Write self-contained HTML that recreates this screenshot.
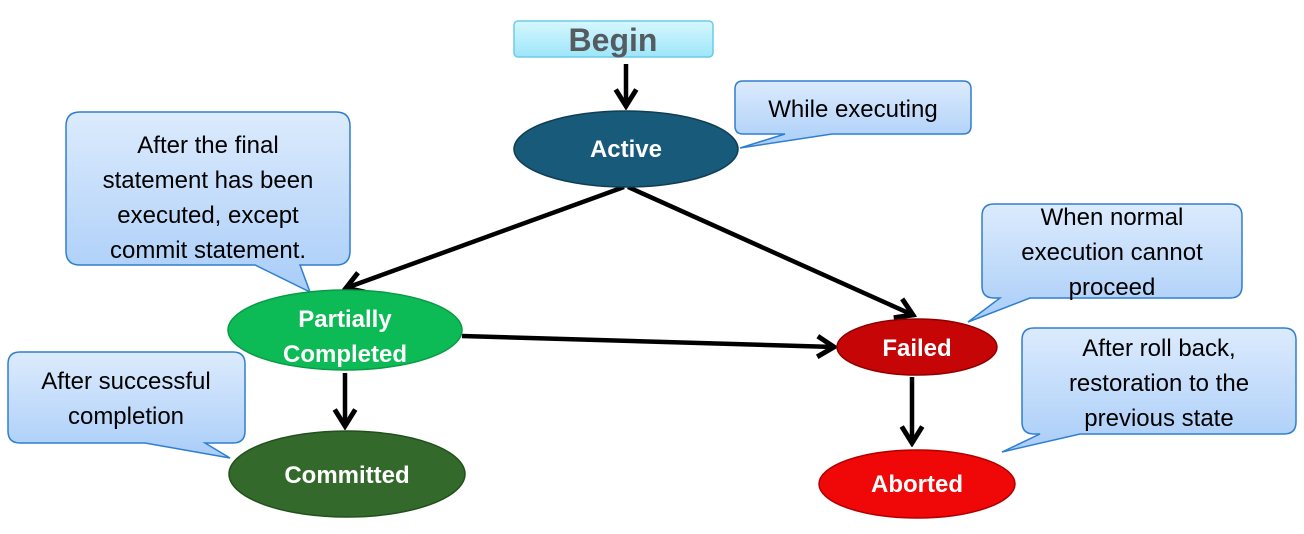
<!DOCTYPE html>
<html><head><meta charset="utf-8"><style>html,body{margin:0;padding:0;background:#fff}svg{display:block}</style></head><body>
<svg width="1304" height="534" viewBox="0 0 1304 534" xmlns="http://www.w3.org/2000/svg" font-family="Liberation Sans, sans-serif">
<defs>
<linearGradient id="cb" x1="0" y1="0" x2="0" y2="1"><stop offset="0" stop-color="#dcebfd"/><stop offset="1" stop-color="#a9cdf8"/></linearGradient>
<linearGradient id="bg" x1="0" y1="0" x2="0" y2="1"><stop offset="0" stop-color="#d6f7fd"/><stop offset="1" stop-color="#9de6fa"/></linearGradient>
<marker id="ah" viewBox="0 0 12 12" refX="10" refY="6" markerWidth="5.5" markerHeight="5.5" orient="auto" markerUnits="strokeWidth"><polyline points="2,1 10,6 2,11" fill="none" stroke="#000" stroke-width="2.4"/></marker>
</defs>
<rect x="514" y="21" width="199" height="36" rx="4" fill="url(#bg)" stroke="#6ccbe8" stroke-width="1.5"/>
<text x="613" y="51" font-size="32" font-weight="bold" fill="#555c60" text-anchor="middle">Begin</text>
<g stroke="#000" stroke-width="4.5" fill="none" marker-end="url(#ah)">
<line x1="626" y1="64" x2="626" y2="106"/>
<line x1="624" y1="187" x2="346" y2="288"/>
<line x1="628" y1="187" x2="913" y2="315"/>
<line x1="462" y1="336" x2="834" y2="347"/>
<line x1="345" y1="373" x2="345" y2="426"/>
<line x1="912" y1="377" x2="912" y2="443"/>
</g>
<g stroke="#2f7fcf" stroke-width="1.5" fill="url(#cb)">
<path d="M743,81 H963 Q971,81 971,89 V126 Q971,134 963,134 H832 L740,148 L785,134 H743 Q735,134 735,126 V89 Q735,81 743,81 Z"/>
<path d="M80,112 H336 Q350,112 350,126 V251 Q350,265 336,265 H300 L310,292 L255,265 H80 Q66,265 66,251 V126 Q66,112 80,112 Z"/>
<path d="M20,352 H233 Q245,352 245,364 V431 Q245,443 233,443 H205 L230,458 L145,443 H20 Q8,443 8,431 V364 Q8,352 20,352 Z"/>
<path d="M994,204 H1230 Q1242,204 1242,216 V286 Q1242,298 1230,298 H1030 L968,322 L1000,298 H994 Q982,298 982,286 V216 Q982,204 994,204 Z"/>
<path d="M1034,328 H1284 Q1296,328 1296,340 V422 Q1296,434 1284,434 H1080 L1002,452 L1040,434 H1034 Q1022,434 1022,422 V340 Q1022,328 1034,328 Z"/>
</g>
<g font-size="24" fill="#000" text-anchor="middle">
<text x="853" y="117">While executing</text>
<text x="208" y="153">After the final</text>
<text x="208" y="188">statement has been</text>
<text x="208" y="223">executed, except</text>
<text x="208" y="258">commit statement.</text>
<text x="126" y="389">After successful</text>
<text x="126" y="424">completion</text>
<text x="1112" y="225">When normal</text>
<text x="1112" y="260">execution cannot</text>
<text x="1112" y="295">proceed</text>
<text x="1159" y="356">After roll back,</text>
<text x="1159" y="391">restoration to the</text>
<text x="1159" y="426">previous state</text>
</g>
<g stroke-width="1.5">
<ellipse cx="626" cy="149" rx="112" ry="38" fill="#185a79" stroke="#0f3e55"/>
<ellipse cx="345" cy="330" rx="117" ry="40" fill="#0cbb55" stroke="#0a9a45"/>
<ellipse cx="347" cy="474" rx="118" ry="43" fill="#336a2b" stroke="#22501c"/>
<ellipse cx="917" cy="347" rx="80" ry="28" fill="#c60606" stroke="#8e0000"/>
<ellipse cx="917" cy="484" rx="98" ry="34" fill="#f00808" stroke="#b00000"/>
</g>
<g font-size="24" font-weight="bold" fill="#fff" text-anchor="middle">
<text x="626" y="157">Active</text>
<text x="345" y="327">Partially</text>
<text x="345" y="362">Completed</text>
<text x="347" y="483">Committed</text>
<text x="917" y="356">Failed</text>
<text x="917" y="492">Aborted</text>
</g>
</svg>
</body></html>
